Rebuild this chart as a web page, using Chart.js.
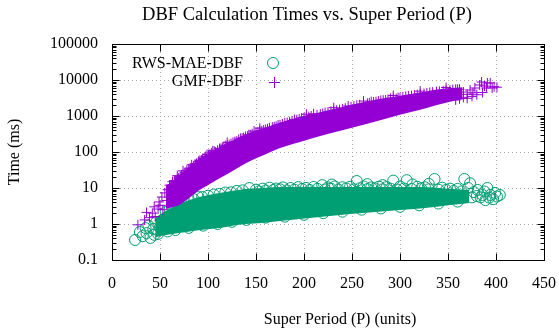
<!DOCTYPE html>
<html>
<head>
<meta charset="utf-8">
<script src="https://cdn.jsdelivr.net/npm/chart.js@4.4.0/dist/chart.umd.min.js"></script>
<style>
  html, body { margin: 0; padding: 0; background: #fff; }
</style>
</head>
<body>
<canvas id="chart" width="559" height="330"></canvas>
<script>
const xTicks = [0, 50, 100, 150, 200, 250, 300, 350, 400, 450];
const yTicks = [0.1, 1, 10, 100, 1000, 10000, 100000];

// RWS-MAE-DBF: single points (edges, outliers, end cluster)
const rwsX = [24, 29, 32, 35, 36, 38, 40, 43, 44, 46, 48, 50, 53,
  58, 66, 80, 95, 110, 125, 140, 160, 180, 200, 220, 240, 260, 280, 300, 320, 340, 360,
  56, 60, 64, 68, 72, 76, 80, 85, 90, 94, 100, 106, 112, 118, 124, 130, 136, 143, 150, 157,
  164, 171, 178, 186, 194, 202, 210, 219, 225, 232, 240, 248, 255, 262, 270, 278, 286, 293,
  300, 307, 318, 326, 336, 344, 352, 360, 367,
  153, 160, 168, 175, 182, 190, 198, 206, 214, 222, 228, 236, 244, 252, 258, 266, 274, 282,
  290, 297, 304, 312, 322, 330, 340, 348, 356, 364, 229, 266, 313, 330, 282,
  371, 373, 375, 377, 380, 381, 384, 386, 388, 389, 391, 393, 394, 397, 399, 401, 404];
const rwsY = [0.36, 0.6, 0.46, 0.77, 0.56, 0.9, 0.41, 0.73, 0.5, 1.13, 0.53, 0.8, 1.29,
  0.62, 0.68, 0.78, 0.9, 1.0, 1.15, 1.3, 1.5, 1.6, 1.8, 2.0, 2.2, 2.5, 2.7, 3.0, 3.3, 3.7, 4.2,
  2.2, 2.6, 2.9, 3.3, 3.9, 4.1, 4.7, 4.9, 5.6, 5.6, 6.1, 6.6, 6.9, 7.5, 7.6, 8.3, 8.6, 10, 9.0, 9.6,
  10.2, 9.7, 10.4, 10.0, 10.6, 10.1, 10.7, 12, 10.4, 11.0, 10.5, 10.8, 15.6, 11.0, 10.4, 10.9, 10.6, 16,
  11.0, 16.5, 10.8, 10.5, 17.8, 10.2, 9.6, 9.4, 17.8,
  8, 8.5, 8.8, 9.2, 8.6, 9, 9.4, 8.8, 9.5, 9.1, 9.6, 9.0, 9.7, 9.2, 9.8, 9.3, 9.8, 9.2,
  9.6, 9.1, 9.7, 9.4, 9.8, 9.2, 9.0, 8.8, 8.3, 8.0, 12.5, 12.8, 12.5, 13, 12,
  10, 13.6, 5.5, 7.7, 6.0, 8.8, 5.5, 6.4, 8, 4.6, 10, 5.4, 6.4, 4.9, 7.3, 5.8, 6.4];

// RWS-MAE-DBF: dense core of the cloud (lower / upper envelope)
const rwsBandX = [45, 52, 70, 92, 112, 139, 156, 175, 227, 248, 300, 321, 355, 372];
const rwsBandLow = [0.43, 0.47, 0.56, 0.68, 0.78, 1.0, 1.07, 1.22, 1.68, 1.9, 2.45, 2.7, 3.4, 3.85];
const rwsBandHigh = [1.5, 2.0, 3.6, 5.7, 7.3, 9.4, 10, 10.7, 10.7, 10.7, 10.7, 10.7, 9.4, 8.9];

// GMF-DBF: single points
const gmfX = [27, 34, 36, 39, 42, 44, 45, 48, 49, 50, 52, 53, 55, 57, 58,
  60, 63, 65, 68, 71, 74, 76, 80, 83, 85, 88, 90, 93, 96, 99, 102, 105, 108, 112, 115, 118, 122,
  126, 130, 134, 137, 141, 144, 148, 152, 156, 160, 164, 167, 171, 175, 180, 185, 190, 195, 200,
  205, 210, 217, 222, 228, 234, 240, 246, 252, 258, 266, 270, 275, 280, 285, 290, 296, 300, 306,
  312, 318, 325, 331, 338, 345, 352, 358, 362,
  61.5, 66.5, 69.5, 72.5, 78, 81.5, 86.5, 91.5, 94.5, 97.5, 100.5, 103.5, 106.5, 110, 113.5, 116.5,
  120, 124, 128, 132, 135.5, 139, 142.5, 146, 150, 154, 158, 162, 169, 173, 177.5, 182.5, 187.5,
  192.5, 197.5, 202.5, 207.5, 213.5, 219.5, 225, 231, 237, 243, 249, 255, 262, 268, 272.5, 277.5,
  282.5, 287.5, 293, 298, 303, 309, 315, 321, 328, 334, 341, 348, 355, 360,
  120, 154, 202.5, 231, 262, 293, 321, 348,
  358, 362, 366, 366, 370, 370, 373, 375, 376, 378, 380, 383, 385, 386, 388, 390, 391, 394, 396, 398, 401];
const gmfY = [0.95, 1.3, 2.1, 1.5, 2.0, 3.0, 1.6, 2.6, 4.1, 3.3, 5.6, 2.5, 7.3, 4.5, 9.0,
  12, 15, 16, 22, 21, 30, 27, 34, 44, 41, 48, 55, 60, 68, 85, 86, 108, 100, 125, 128, 150, 160,
  185, 200, 240, 250, 275, 300, 380, 360, 390, 420, 470, 490, 520, 570, 640, 690, 800, 830, 900,
  960, 1150, 1130, 1250, 1340, 1450, 1580, 1900, 1880, 2050, 2250, 2500, 2500, 2700, 2780, 3100, 3050, 3230, 3500,
  3680, 3900, 4200, 4500, 4730, 5000, 5250, 5500, 5550,
  12, 16, 19, 23, 31, 36, 46, 58, 66, 75, 84, 95, 105, 112, 125, 140,
  152, 172, 195, 225, 240, 270, 300, 320, 350, 380, 410, 440, 500, 560, 600, 660, 730,
  790, 870, 930, 1000, 1080, 1180, 1290, 1400, 1500, 1650, 1800, 1980, 2150, 2300, 2450, 2600,
  2750, 2900, 3100, 3250, 3400, 3600, 3850, 4100, 4350, 4600, 4850, 5150, 5400, 5500,
  185, 460, 1120, 1700, 2600, 3700, 4900, 6200,
  2800, 3000, 3300, 4640, 3100, 4000, 5270, 3500, 4400, 5990, 3900, 7260, 8800, 4500, 6800, 6000, 8260, 8300, 5990, 6500, 6310];

// GMF-DBF: dense core of the cloud
const gmfBandX = [56, 60, 71, 80, 90, 102, 115, 130, 144, 160, 175, 195, 217, 240, 266, 285, 300, 325, 352, 365];
const gmfBandLow = [2.6, 2.8, 3.5, 5.2, 8.4, 13, 20.5, 35, 56, 87, 130, 188, 278, 400, 607, 838, 1080, 1600, 2470, 2900];
const gmfBandHigh = [11, 13.6, 24, 38, 60, 98, 145, 230, 340, 475, 645, 935, 1275, 1785, 2550, 3150, 3650, 4750, 5950, 6300];

const GREEN = '#009e73';
const PURPLE = '#9400d3';
const FONT = '"Liberation Serif", "DejaVu Serif", serif';

function pts(xs, ys) {
  return xs.map((x, i) => ({x: x, y: ys[i]}));
}

function band(xs, ys, color, fill, order) {
  return {
    data: pts(xs, ys),
    showLine: true,
    cubicInterpolationMode: 'monotone',
    borderWidth: 0,
    borderColor: 'rgba(0,0,0,0)',
    backgroundColor: color,
    pointRadius: 0,
    fill: fill,
    order: order
  };
}

const decor = {
  id: 'decor',
  beforeDatasetsDraw(chart) {
    const {ctx, chartArea: a, scales: {x, y}} = chart;
    ctx.save();
    ctx.strokeStyle = '#a8a8a8';
    ctx.lineWidth = 1;
    ctx.setLineDash([1, 3]);
    xTicks.forEach(v => {
      const px = Math.round(x.getPixelForValue(v)) + 0.5;
      ctx.beginPath(); ctx.moveTo(px, a.top); ctx.lineTo(px, a.bottom); ctx.stroke();
    });
    yTicks.forEach(v => {
      const py = Math.round(y.getPixelForValue(v)) + 0.5;
      ctx.beginPath(); ctx.moveTo(a.left, py); ctx.lineTo(a.right, py); ctx.stroke();
    });
    ctx.restore();
  },
  afterDatasetsDraw(chart) {
    const {ctx, chartArea: a, scales: {x, y}} = chart;
    const L = Math.round(a.left) + 0.5, R = Math.round(a.right) + 0.5;
    const T = Math.round(a.top) + 0.5, B = Math.round(a.bottom) + 0.5;
    ctx.save();
    ctx.strokeStyle = '#000';
    ctx.lineWidth = 1;
    ctx.strokeRect(L, T, R - L, B - T);
    ctx.beginPath();
    xTicks.forEach(v => {
      const px = Math.round(x.getPixelForValue(v)) + 0.5;
      ctx.moveTo(px, B); ctx.lineTo(px, B - 7);
      ctx.moveTo(px, T); ctx.lineTo(px, T + 7);
    });
    yTicks.forEach((v, i) => {
      const py = Math.round(y.getPixelForValue(v)) + 0.5;
      ctx.moveTo(L, py); ctx.lineTo(L + 7, py);
      ctx.moveTo(R, py); ctx.lineTo(R - 7, py);
      if (i < yTicks.length - 1) {
        for (let k = 2; k <= 9; k++) {
          const my = Math.round(y.getPixelForValue(v * k)) + 0.5;
          ctx.moveTo(L, my); ctx.lineTo(L + 4, my);
          ctx.moveTo(R, my); ctx.lineTo(R - 4, my);
        }
      }
    });
    ctx.stroke();

    // key
    ctx.fillStyle = '#000';
    ctx.font = '16px ' + FONT;
    ctx.textAlign = 'right';
    ctx.textBaseline = 'middle';
    ctx.fillText('RWS-MAE-DBF', 243, 64);
    ctx.fillText('GMF-DBF', 243, 82);
    ctx.strokeStyle = GREEN;
    ctx.beginPath(); ctx.arc(273, 63, 5.5, 0, Math.PI * 2); ctx.stroke();
    ctx.strokeStyle = PURPLE;
    ctx.beginPath();
    ctx.moveTo(269, 82.5); ctx.lineTo(280, 82.5);
    ctx.moveTo(274.5, 77); ctx.lineTo(274.5, 88);
    ctx.stroke();
    ctx.restore();
  },
  afterDraw(chart) {
    const ctx = chart.ctx;
    ctx.save();
    ctx.fillStyle = '#000';
    ctx.textAlign = 'center';
    ctx.textBaseline = 'middle';
    ctx.font = '18.5px ' + FONT;
    ctx.fillText('DBF Calculation Times vs. Super Period (P)', 307, 15);
    ctx.font = '16px ' + FONT;
    ctx.fillText('Super Period (P) (units)', 340, 320);
    ctx.translate(15, 152);
    ctx.rotate(-Math.PI / 2);
    ctx.fillText('Time (ms)', 0, 0);
    ctx.restore();
  }
};

new Chart(document.getElementById('chart'), {
  type: 'scatter',
  data: {
    datasets: [
      band(rwsBandX, rwsBandLow, GREEN, false, 5),
      band(rwsBandX, rwsBandHigh, GREEN, '-1', 4),
      {
        label: 'RWS-MAE-DBF',
        data: pts(rwsX, rwsY),
        pointStyle: 'circle',
        pointRadius: 5.5,
        pointBorderWidth: 1,
        borderColor: GREEN,
        backgroundColor: 'rgba(0,0,0,0)',
        order: 3
      },
      band(gmfBandX, gmfBandLow, PURPLE, false, 2),
      band(gmfBandX, gmfBandHigh, PURPLE, '-1', 1),
      {
        label: 'GMF-DBF',
        data: pts(gmfX, gmfY),
        pointStyle: 'cross',
        pointRadius: 5,
        pointBorderWidth: 1,
        borderColor: PURPLE,
        backgroundColor: PURPLE,
        order: 0
      }
    ]
  },
  options: {
    responsive: false,
    animation: false,
    events: [],
    layout: { padding: { top: 44, right: 15, left: 0, bottom: 0 } },
    plugins: {
      legend: { display: false },
      tooltip: { enabled: false }
    },
    scales: {
      x: {
        type: 'linear',
        min: 0,
        max: 450,
        grid: { display: false, drawTicks: false },
        border: { display: false },
        ticks: {
          stepSize: 50,
          padding: 14,
          color: '#000',
          font: { family: FONT, size: 16 },
          maxRotation: 0
        },
        afterFit(s) { s.height = 70; s.paddingLeft = 0; s.paddingRight = 0; }
      },
      y: {
        type: 'logarithmic',
        min: 0.1,
        max: 100000,
        grid: { display: false, drawTicks: false },
        border: { display: false },
        afterBuildTicks(s) { s.ticks = yTicks.map(v => ({value: v, major: true})); },
        ticks: {
          padding: 14,
          color: '#000',
          font: { family: FONT, size: 16 },
          callback: v => String(v)
        },
        afterFit(s) { s.width = 112; s.paddingTop = 0; s.paddingBottom = 0; }
      }
    }
  },
  plugins: [decor]
});
</script>
</body>
</html>
